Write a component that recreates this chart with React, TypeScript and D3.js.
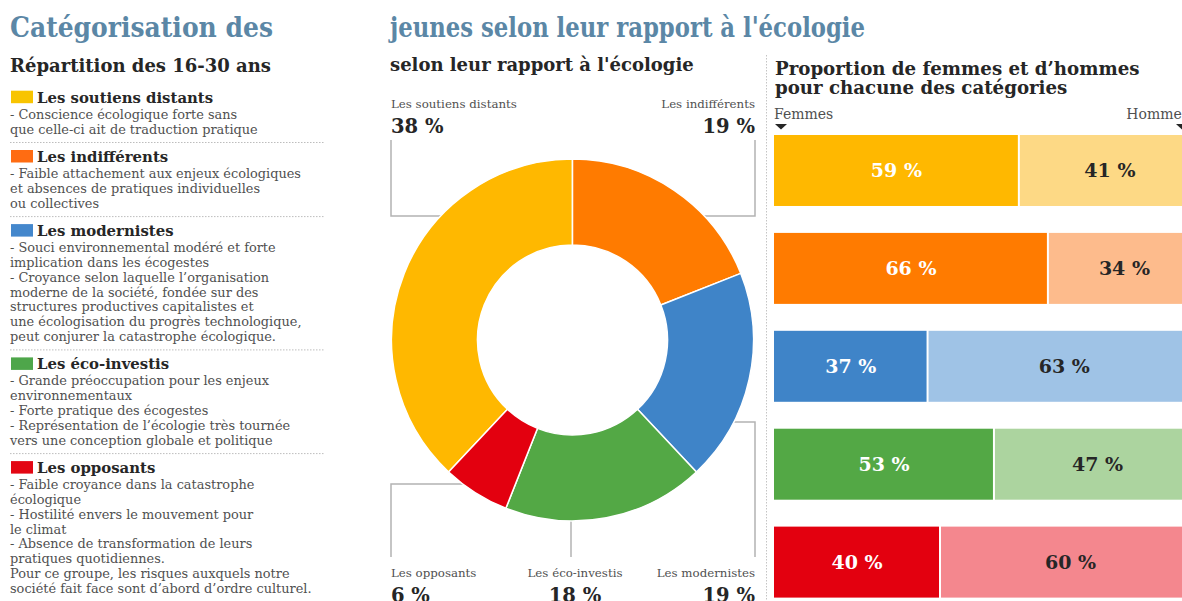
import React from "react";
import * as d3 from "d3";

const categories = ["Les soutiens distants", "Les indifférents", "Les modernistes", "Les éco-investis", "Les opposants"];
const shares = [38, 19, 19, 18, 6];
const women = [59, 66, 37, 53, 40];
const men = [41, 34, 63, 47, 60];
const mainColors = ["#ffb800", "#ff7b00", "#3f84c8", "#53a845", "#e3000f"];
const lightColors = ["#fdd985", "#fdbb8c", "#9fc3e6", "#acd49f", "#f4878e"];
const swatchColors = ["#f8c400", "#ff6c12", "#4487cc", "#4ea64a", "#e30613"];
const descriptions = [
  ["- Conscience écologique forte sans", "que celle-ci ait de traduction pratique"],
  ["- Faible attachement aux enjeux écologiques", "et absences de pratiques individuelles", "ou collectives"],
  [
    "- Souci environnemental modéré et forte",
    "implication dans les écogestes",
    "- Croyance selon laquelle l’organisation",
    "moderne de la société, fondée sur des",
    "structures productives capitalistes et",
    "une écologisation du progrès technologique,",
    "peut conjurer la catastrophe écologique.",
  ],
  [
    "- Grande préoccupation pour les enjeux",
    "environnementaux",
    "- Forte pratique des écogestes",
    "- Représentation de l’écologie très tournée",
    "vers une conception globale et politique",
  ],
  [
    "- Faible croyance dans la catastrophe",
    "écologique",
    "- Hostilité envers le mouvement pour",
    "le climat",
    "- Absence de transformation de leurs",
    "pratiques quotidiennes.",
    "Pour ce groupe, les risques auxquels notre",
    "société fait face sont d’abord d’ordre culturel.",
  ],
];

const FONT = "'DejaVu Serif', serif";
const TITLE_COLOR = "#5b87a6";
const DARK = "#262626";
const GREY = "#505050";

export default function App() {
  const W = 1182, H = 601;

  // Legend layout
  const legendItems: { y: number; lines: number[]; sep: number }[] = [];
  let ty = 102.7;
  descriptions.forEach((lines) => {
    const ls = lines.map((_, i) => ty + 16 + i * 14.8);
    const sep = ls[ls.length - 1] + 9;
    legendItems.push({ y: ty, lines: ls, sep });
    ty = sep + 19.5;
  });

  // Donut
  const cx = 572.5, cy = 340;
  const pie = d3
    .pie<number>()
    .sort(null)
    .value((d) => d)
    .startAngle((-shares[0] / 100) * 2 * Math.PI)
    .endAngle((1 - shares[0] / 100) * 2 * Math.PI);
  const arcs = pie(shares);
  const arc = d3.arc<d3.PieArcDatum<number>>().innerRadius(95).outerRadius(181);

  // Bars
  const x = d3.scaleLinear().domain([0, 100]).range([774, 1189]);
  const y = d3.scaleBand<string>().domain(categories).range([135, 597.6]).paddingInner(0.275).paddingOuter(0);

  const lineStyle = { stroke: "#b3b3b3", strokeWidth: 1.5, fill: "none" };

  const leaders = [
    { pts: [[391, 140], [391, 216], [480, 216]], name: 0, nx: 391, ny: 108, py: 133, anchor: "start" },
    { pts: [[755, 140], [755, 216], [680, 216]], name: 1, nx: 755, ny: 108, py: 133, anchor: "end" },
    { pts: [[755, 557], [755, 422], [700, 422]], name: 2, nx: 755, ny: 577, py: 602, anchor: "end" },
    { pts: [[571, 557], [571, 500]], name: 3, nx: 575, ny: 577, py: 602, anchor: "middle" },
    { pts: [[391, 557], [391, 484], [480, 484]], name: 4, nx: 391, ny: 577, py: 602, anchor: "start" },
  ];

  return (
    <svg width={W} height={H} style={{ position: "absolute", left: 0, top: 0, background: "#fff" }} fontFamily={FONT}>
      {/* Titles */}
      <text x={10} y={37} fontSize={27} fontWeight="bold" fill={TITLE_COLOR} textLength={263} lengthAdjust="spacingAndGlyphs">Catégorisation des</text>
      <text x={390} y={37} fontSize={27} fontWeight="bold" fill={TITLE_COLOR} textLength={475} lengthAdjust="spacingAndGlyphs">jeunes selon leur rapport à l'écologie</text>

      {/* Left column */}
      <text x={10} y={72} fontSize={18} fontWeight="bold" fill={DARK}>Répartition des 16-30 ans</text>
      {legendItems.map((it, i) => (
        <g key={i}>
          <rect x={11} y={it.y - 12} width={22} height={12.5} fill={swatchColors[i]} />
          <text x={37} y={it.y} fontSize={14.9} fontWeight="bold" fill={DARK}>{categories[i]}</text>
          {descriptions[i].map((l, j) => (
            <text key={j} x={10} y={it.lines[j]} fontSize={12.9} fill={GREY}>{l}</text>
          ))}
          {i < categories.length - 1 && (
            <line x1={10} x2={325} y1={it.sep} y2={it.sep} stroke="#bdbdbd" strokeWidth={1} strokeDasharray="1.5,1.5" />
          )}
        </g>
      ))}

      {/* Donut section */}
      <text x={390} y={71} fontSize={18} fontWeight="bold" fill={DARK}>selon leur rapport à l'écologie</text>
      {leaders.map((l, i) => (
        <polyline key={i} points={l.pts.map((p) => p.join(",")).join(" ")} {...lineStyle} />
      ))}
      <g transform={`translate(${cx},${cy})`}>
        {arcs.map((a, i) => (
          <path key={i} d={arc(a) as string} fill={mainColors[i]} stroke="#fff" strokeWidth={1.5} />
        ))}
      </g>
      {leaders.map((l, i) => (
        <g key={i}>
          <text x={l.nx} y={l.ny} fontSize={11.8} fill={GREY} textAnchor={l.anchor as any}>{categories[l.name]}</text>
          <text x={l.nx} y={l.py} fontSize={19.5} fontWeight="bold" fill={DARK} textAnchor={l.anchor as any}>{shares[l.name]} %</text>
        </g>
      ))}

      {/* Separator */}
      <line x1={766.5} x2={766.5} y1={55} y2={601} stroke="#c4c4c4" strokeWidth={1} strokeDasharray="1.5,1.5" />

      {/* Bars section */}
      <text x={775} y={75} fontSize={18.2} fontWeight="bold" fill={DARK}>Proportion de femmes et d’hommes</text>
      <text x={775} y={93.5} fontSize={18.2} fontWeight="bold" fill={DARK}>pour chacune des catégories</text>
      <text x={x(0)} y={119} fontSize={14} fill={GREY}>Femmes</text>
      <text x={x(100)} y={119} fontSize={14} fill={GREY} textAnchor="end">Hommes</text>
      <path d={`M${x(0) + 1},124 h12 l-6,5.5 z`} fill={DARK} />
      <path d={`M${x(100) - 13},124 h12 l-6,5.5 z`} fill={DARK} />
      {categories.map((c, i) => {
        const y0 = y(c)!;
        const bw = y.bandwidth();
        const xs = x(women[i]);
        return (
          <g key={c}>
            <rect x={x(0)} y={y0} width={xs - x(0) - 1} height={bw} fill={mainColors[i]} />
            <rect x={xs + 1} y={y0} width={x(100) - xs - 1} height={bw} fill={lightColors[i]} />
            <text x={(x(0) + xs) / 2} y={y0 + bw / 2 + 7} fontSize={19} fontWeight="bold" fill="#fff" textAnchor="middle">{women[i]} %</text>
            <text x={(xs + x(100)) / 2 + 6} y={y0 + bw / 2 + 7} fontSize={19} fontWeight="bold" fill={DARK} textAnchor="middle">{men[i]} %</text>
          </g>
        );
      })}
    </svg>
  );
}
